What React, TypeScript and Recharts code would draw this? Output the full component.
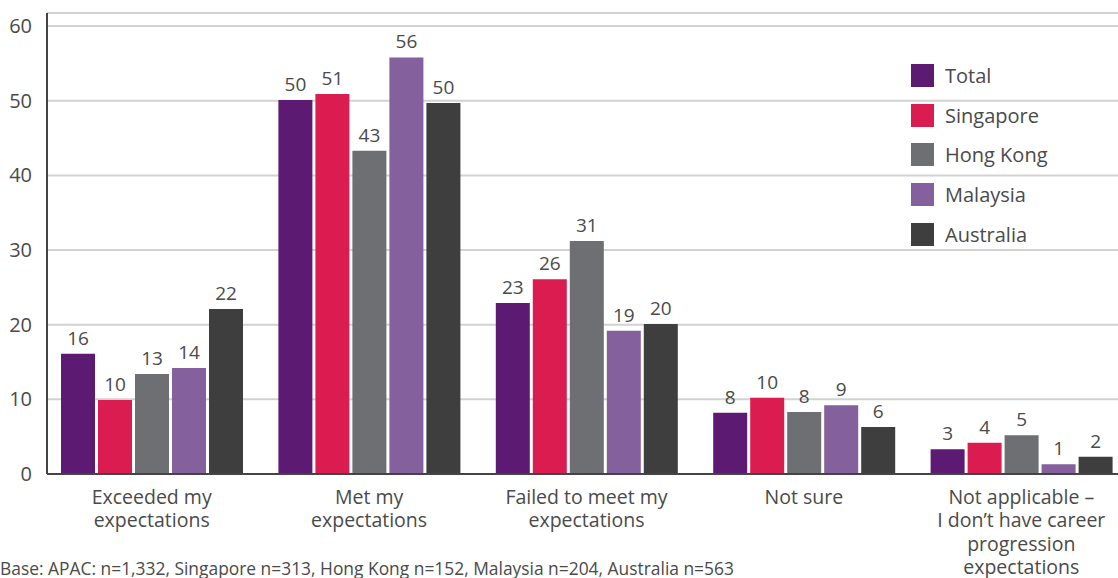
import { BarChart, Bar, XAxis, YAxis, CartesianGrid, LabelList } from 'recharts';

const categories = [
  'Exceeded my\nexpectations',
  'Met my\nexpectations',
  'Failed to meet my\nexpectations',
  'Not sure',
  'Not applicable –\nI don’t have career\nprogression\nexpectations',
];

const seriesNames = ['Total', 'Singapore', 'Hong Kong', 'Malaysia', 'Australia'];
const seriesColors = ['#5c1a73', '#da1c50', '#6e6f73', '#84609c', '#3e3e3f'];

const total = [16.1, 50.1, 22.9, 8.2, 3.3];
const singapore = [9.9, 50.9, 26.1, 10.2, 4.2];
const hongKong = [13.4, 43.3, 31.2, 8.3, 5.2];
const malaysia = [14.2, 55.8, 19.2, 9.2, 1.3];
const australia = [22.1, 49.7, 20.1, 6.3, 2.3];

const yTicks = [0, 10, 20, 30, 40, 50, 60];

const footnote =
  'Base: APAC: n=1,332, Singapore n=313, Hong Kong n=152, Malaysia n=204, Australia n=563';

const seriesValues = [total, singapore, hongKong, malaysia, australia];
const data = categories.map((name, i) => {
  const row: Record<string, string | number> = { name };
  seriesNames.forEach((s, j) => {
    row[s] = seriesValues[j][i];
  });
  return row;
});

const FONT = '"Open Sans", sans-serif';
const TEXT = '#4a4a4a';

function CategoryTick({ x, y, payload }: { x?: number; y?: number; payload?: { value: string } }) {
  const lines = String(payload?.value ?? '').split('\n');
  return (
    <text x={x} y={y} textAnchor="middle" fill={TEXT} fontSize={19.5} fontFamily={FONT}>
      {lines.map((l, i) => (
        <tspan key={i} x={x} y={(y ?? 0) + 22 + i * 23.3}>
          {l}
        </tspan>
      ))}
    </text>
  );
}

export default function App() {
  return (
    <div
      style={{
        position: 'absolute',
        left: 0,
        top: 0,
        width: 1118,
        height: 578,
        overflow: 'hidden',
        background: '#fff',
        fontFamily: FONT,
      }}
    >
      <BarChart
        width={1130}
        height={578}
        data={data}
        margin={{ top: 13, right: 0, bottom: 4, left: 7 }}
        barSize={34}
        barGap={3}
      >
        <CartesianGrid vertical={false} stroke="#d2d2d2" strokeWidth={2} />
        <XAxis
          dataKey="name"
          height={100}
          interval={0}
          padding={{ left: -4, right: 0 }}
          axisLine={{ stroke: '#444', strokeWidth: 2 }}
          tickLine={false}
          tick={<CategoryTick />}
        />
        <YAxis
          width={40}
          domain={[0, 61.75]}
          ticks={yTicks}
          allowDataOverflow
          axisLine={{ stroke: '#444', strokeWidth: 2 }}
          tickLine={false}
          tickMargin={9}
          tick={{ fill: TEXT, fontSize: 20, fontFamily: FONT }}
        />
        {seriesNames.map((s, j) => (
          <Bar key={s} dataKey={s} fill={seriesColors[j]} isAnimationActive={false}>
            <LabelList
              dataKey={s}
              position="top"
              offset={9}
              formatter={(v: number) => Math.round(v)}
              style={{ fill: TEXT, fontSize: 19, fontFamily: FONT }}
            />
          </Bar>
        ))}
      </BarChart>

      <div style={{ position: 'absolute', left: 911, top: 56 }}>
        {seriesNames.map((s, j) => (
          <div key={s} style={{ display: 'flex', alignItems: 'center', height: 39.6 }}>
            <div style={{ width: 23, height: 23, background: seriesColors[j], marginRight: 11 }} />
            <span style={{ fontSize: 20, color: TEXT, lineHeight: '23px' }}>{s}</span>
          </div>
        ))}
      </div>

      <div
        style={{
          position: 'absolute',
          left: 0,
          top: 557,
          fontSize: 17.4,
          lineHeight: '22px',
          color: TEXT,
          whiteSpace: 'nowrap',
        }}
      >
        {footnote}
      </div>
    </div>
  );
}
